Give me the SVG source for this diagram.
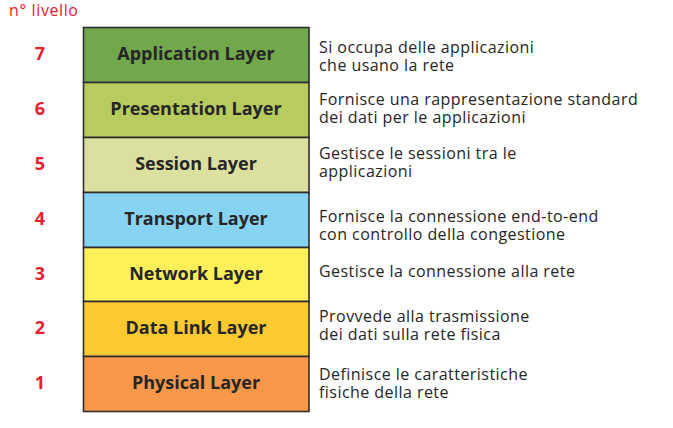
<svg xmlns="http://www.w3.org/2000/svg" width="673" height="428" viewBox="0 0 673 428">
  <style>
    .layer { stroke: #2e2e2e; stroke-width: 1.6; }
    .name { font-family: "Open Sans", "Noto Sans", sans-serif; font-weight: bold; font-size: 18px; fill: #262626; text-anchor: middle; }
    .num { font-family: "Open Sans", "Noto Sans", sans-serif; font-weight: bold; font-size: 18px; fill: #e8202f; text-anchor: middle; }
    .desc { font-family: "Open Sans", "Noto Sans", sans-serif; font-size: 16px; letter-spacing: 0.45px; fill: #262626; }
    .head { font-family: "Open Sans", "Noto Sans", sans-serif; font-size: 16px; letter-spacing: 0.6px; fill: #e8202f; }
  </style>
  <rect width="673" height="428" fill="#ffffff"/>
  <text class="head" x="9" y="16">n° livello</text>

  <!-- one group per OSI layer: coloured band, name, level number, description -->
  <g id="layer7">
    <rect class="layer" x="83.5" y="27.5" width="225.5" height="55" fill="#70a84b"/>
    <text class="name" x="196" y="60">Application Layer</text>
    <text class="num" x="40" y="60">7</text>
    <text class="desc" x="319" y="53">Si occupa delle applicazioni<tspan x="319" dy="18">che usano la rete</tspan></text>
  </g>
  <g id="layer6">
    <rect class="layer" x="83.5" y="82.5" width="225.5" height="55" fill="#b8cb5e"/>
    <text class="name" x="196" y="115">Presentation Layer</text>
    <text class="num" x="40" y="115">6</text>
    <text class="desc" x="319" y="105">Fornisce una rappresentazione standard<tspan x="319" dy="18">dei dati per le applicazioni</tspan></text>
  </g>
  <g id="layer5">
    <rect class="layer" x="83.5" y="137.5" width="225.5" height="55" fill="#dbe0a1"/>
    <text class="name" x="196" y="170">Session Layer</text>
    <text class="num" x="40" y="170">5</text>
    <text class="desc" x="319" y="159">Gestisce le sessioni tra le<tspan x="319" dy="18">applicazioni</tspan></text>
  </g>
  <g id="layer4">
    <rect class="layer" x="83.5" y="192.5" width="225.5" height="55" fill="#86d3f2"/>
    <text class="name" x="196" y="225">Transport Layer</text>
    <text class="num" x="40" y="225">4</text>
    <text class="desc" x="319" y="222">Fornisce la connessione end-to-end<tspan x="319" dy="18">con controllo della congestione</tspan></text>
  </g>
  <g id="layer3">
    <rect class="layer" x="83.5" y="247.5" width="225.5" height="54" fill="#fff05a"/>
    <text class="name" x="196" y="280">Network Layer</text>
    <text class="num" x="40" y="280">3</text>
    <text class="desc" x="319" y="277">Gestisce la connessione alla rete</text>
  </g>
  <g id="layer2">
    <rect class="layer" x="83.5" y="301.5" width="225.5" height="55" fill="#fdc930"/>
    <text class="name" x="196" y="334">Data Link Layer</text>
    <text class="num" x="40" y="334">2</text>
    <text class="desc" x="319" y="322">Provvede alla trasmissione<tspan x="319" dy="18">dei dati sulla rete fisica</tspan></text>
  </g>
  <g id="layer1">
    <rect class="layer" x="83.5" y="356.5" width="225.5" height="55" fill="#f9974b"/>
    <text class="name" x="196" y="389">Physical Layer</text>
    <text class="num" x="40" y="389">1</text>
    <text class="desc" x="319" y="380">Definisce le caratteristiche<tspan x="319" dy="18">fisiche della rete</tspan></text>
  </g>
  <g id="connectors"/>
</svg>
